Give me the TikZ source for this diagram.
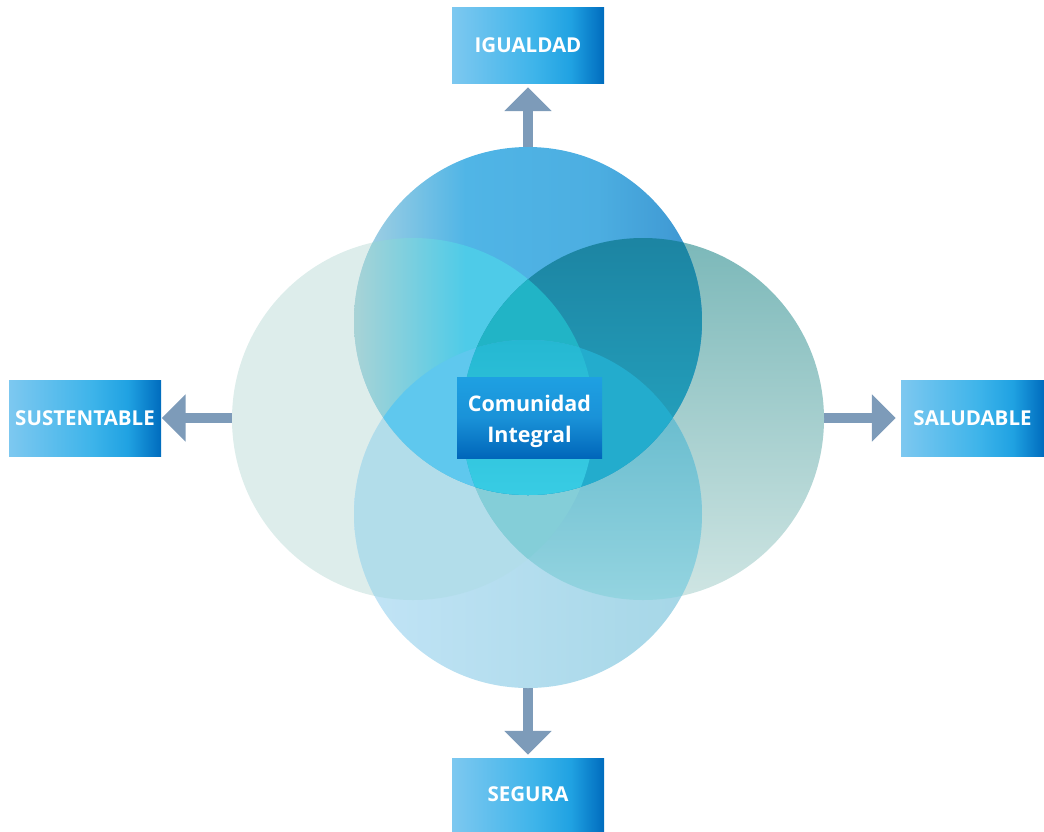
\documentclass[tikz,border=0pt]{standalone}
\usepackage{fontspec}
\setmainfont{Open Sans}
\usetikzlibrary{arrows.meta}
% circle / region colours
\definecolor{lft}{RGB}{221,237,235}
\definecolor{rta}{RGB}{123,184,185}
\definecolor{rtb}{RGB}{207,229,227}
\definecolor{bta}{RGB}{194,228,246}
\definecolor{btb}{RGB}{164,214,230}
\definecolor{blc}{RGB}{178,221,234}
\definecolor{bra}{RGB}{90,180,200}
\definecolor{brb}{RGB}{148,212,224}
\definecolor{blrc}{RGB}{132,206,216}
\definecolor{tpa}{RGB}{170,210,226}
\definecolor{tpb}{RGB}{80,181,230}
\definecolor{tpc}{RGB}{76,174,225}
\definecolor{tpd}{RGB}{60,148,208}
\definecolor{tla}{RGB}{168,211,214}
\definecolor{tlb}{RGB}{78,203,232}
\definecolor{tra}{RGB}{28,132,162}
\definecolor{trb}{RGB}{38,168,196}
\definecolor{tlrc}{RGB}{33,180,198}
\definecolor{tblc}{RGB}{95,200,238}
\definecolor{tbrc}{RGB}{35,172,205}
\definecolor{cena}{RGB}{37,184,210}
\definecolor{cenb}{RGB}{56,204,228}
% boxes
\definecolor{bxa}{RGB}{125,200,240}
\definecolor{bxb}{RGB}{62,180,234}
\definecolor{bxc}{RGB}{32,162,226}
\definecolor{bxd}{RGB}{0,108,190}
\definecolor{cbt}{RGB}{30,160,226}
\definecolor{cbm}{RGB}{26,146,216}
\definecolor{cbb}{RGB}{0,102,186}
\definecolor{arrc}{RGB}{125,155,185}
\pgfdeclarehorizontalshading{boxshade}{100bp}{color(0bp)=(bxa); color(25bp)=(bxa); color(52bp)=(bxb); color(64bp)=(bxc); color(75bp)=(bxd); color(100bp)=(bxd)}
\pgfdeclarehorizontalshading{topshade}{100bp}{color(0bp)=(tpa); color(25bp)=(tpa); color(41bp)=(tpb); color(60bp)=(tpc); color(75bp)=(tpd); color(100bp)=(tpd)}
\pgfdeclarehorizontalshading{tlshade}{100bp}{color(0bp)=(tla); color(25bp)=(tla); color(41bp)=(tlb); color(100bp)=(tlb)}
\newcommand{\cirT}{(528,321) circle[radius=174pt]}
\newcommand{\cirB}{(528,514) circle[radius=174pt]}
\newcommand{\cirL}{(413,419) circle[radius=181pt]}
\newcommand{\cirR}{(643,419) circle[radius=181pt]}
\begin{document}
\begin{tikzpicture}[x=1pt,y=-1pt,
  box/.style={shade, shading=boxshade, minimum width=152pt, minimum height=76pt,
    inner sep=0pt, text=white, font=\bfseries\fontsize{20.5}{24}\selectfont},
  arr/.style={draw=arrc, line width=10.5pt, -{Triangle[width=46pt,length=24pt]}, arrc}]
\useasboundingbox (0,0) rectangle (1044,831);
% boxes
\node[box] (igualdad) at (528,45) {IGUALDAD};
\node[box] (sustentable) at (85,418) {SUSTENTABLE};
\node[box, minimum width=143pt] (saludable) at (972.5,418) {SALUDABLE};
\node[box, minimum height=73pt] (segura) at (528,794.5) {SEGURA};
% arrow start points on the circles
\coordinate (ptop) at (528,152);
\coordinate (pleft) at (237,418);
\coordinate (pright) at (819,418);
\coordinate (pbot) at (528,683);
\draw[arr, shorten >=4pt] (ptop) -- (igualdad.south);
\draw[arr, shorten >=0.5pt] (pleft) -- (sustentable.east);
\draw[arr, shorten >=5pt] (pright) -- (saludable.west);
\draw[arr, shorten >=3pt] (pbot) -- (segura.north);
% circles
\fill[lft] \cirL;
\shade[top color=rta, bottom color=rtb] \cirR;
\shade[left color=bta, right color=btb] \cirB;
\begin{scope}
  \clip \cirB;
  \fill[blc] \cirL;
  \begin{scope}
    \clip \cirR;
    \shade[top color=bra, bottom color=brb] (462,340) rectangle (702,600);
  \end{scope}
  \clip \cirL;
  \fill[blrc] \cirR;
\end{scope}
\shade[shading=topshade] \cirT;
\begin{scope}
  \clip \cirT;
  \begin{scope}
    \clip \cirL;
    \shade[shading=tlshade] \cirT;
  \end{scope}
  \begin{scope}
    \clip \cirR;
    \shade[top color=tra, bottom color=trb] (462,236) rectangle (702,495);
  \end{scope}
  \begin{scope}
    \clip \cirL;
    \fill[tlrc] \cirR;
  \end{scope}
  \begin{scope}
    \clip \cirB;
    \fill[tblc] \cirL;
    \fill[tbrc] \cirR;
    \clip \cirL;
    \clip \cirR;
    \shade[top color=cena, bottom color=cenb] (462,340) rectangle (594,494);
  \end{scope}
\end{scope}
% centre
\node[top color=cbt, bottom color=cbb, middle color=cbm, minimum width=145pt, minimum height=81pt,
  inner sep=0pt, text=white, align=center, font=\bfseries\fontsize{21.5}{31}\selectfont]
  (centro) at (529.5,417.5) {\rule{0pt}{24pt}Comunidad\\Integral};
\end{tikzpicture}
\end{document}
